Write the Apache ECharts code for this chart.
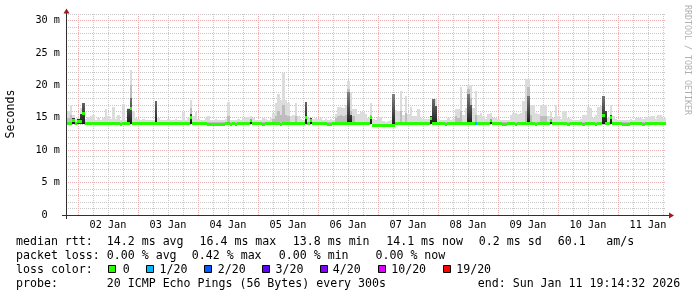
<!DOCTYPE html>
<html><head><meta charset="utf-8">
<script src="https://cdn.jsdelivr.net/npm/echarts@6/dist/echarts.min.js"></script>
<style>html,body{margin:0;padding:0;background:#fff}#c{width:697px;height:297px}</style>
</head><body><div id="c"></div><script>
// ---- time axis (hours since Jan 1 00:00) ----
const xMin = 19.2422, xMax = 259.2422;       // Jan 1 19:14:32 .. Jan 11 19:14:32
const startHour = 19.75;                       // first hourly bucket
const dayLabels = ['02 Jan','03 Jan','04 Jan','05 Jan','06 Jan','07 Jan','08 Jan','09 Jan','10 Jan','11 Jan'];
const dayLabelHours = [36,60,84,108,132,156,180,204,228,252];
const midnightHours = [24,48,72,96,120,144,168,192,216,240];
const sixHourHours = [30,36,42,54,60,66,78,84,90,102,108,114,126,132,138,150,156,162,174,180,186,198,204,210,222,228,234,246,252,258];
const yMajor = [0,5,10,15,20,25,30];
const yTickLabels = ['0  ','5 m','10 m','15 m','20 m','25 m','30 m'];
const yMinor = [1,2,3,4,6,7,8,9,11,12,13,14,16,17,18,19,21,22,23,24,26,27,28,29,31];

// ---- hourly buckets, ms ----
const medianRtt = [
14.1,14.1,14.5,14.1,14.4,14.4, 15.6,14.1,14.1,14.1,14.1,14.1, 14.1,14.1,14.1,14.1,14.1,14.1, 14.1,14.1,14.1,14.0,14.1,14.1,
14.1,16.4,14.1,14.1,14.1,14.1, 14.1,14.1,14.1,14.1,14.1,14.1, 14.1,14.1,14.1,14.1,14.1,14.1, 14.1,14.1,14.1,14.1,14.1,14.1,
14.1,15.0,14.1,14.1,14.1,14.1, 14.1,14.1,14.0,14.0,14.0,14.0, 14.0,14.0,14.0,14.1,14.1,14.0, 14.1,14.0,14.1,14.1,14.1,14.1,
14.1,14.5,14.1,14.1,14.1,14.1, 14.0,14.1,14.1,14.1,14.1,14.1, 14.1,14.0,14.1,14.1,14.1,14.1, 14.1,14.1,14.1,14.1,14.1,15.0,
14.1,14.5,14.1,14.1,14.1,14.1, 14.1,14.1,14.0,14.0,14.1,14.1, 14.1,14.1,14.1,14.1,14.1,14.1, 14.1,14.1,14.1,14.1,14.1,14.1,
14.1,15.0,13.8,13.8,13.8,13.8, 13.8,13.8,13.8,13.8,13.8,14.1, 14.1,14.1,14.1,14.1,14.1,14.1, 14.1,14.1,14.1,14.1,14.1,14.1,
14.1,14.9,14.1,14.1,14.1,14.1, 14.1,14.0,14.1,14.1,14.1,14.1, 14.1,14.1,14.1,14.1,14.1,14.1, 14.1,14.1,14.1,14.1,14.1,14.1,
14.1,14.5,14.1,14.1,14.1,14.1, 14.0,14.0,14.1,14.1,14.1,14.0, 14.1,14.1,14.1,14.1,14.1,14.1, 14.1,14.0,14.1,14.1,14.1,14.1,
14.1,14.5,14.1,14.1,14.1,14.1, 14.1,14.1,14.0,14.1,14.1,14.1, 14.1,14.1,14.0,14.1,14.1,14.1, 14.1,14.0,14.1,14.1,15.3,14.1,
14.1,15.0,14.1,14.1,14.1,14.1, 14.0,14.0,14.0,14.1,14.1,14.1, 14.1,14.1,14.0,14.1,14.1,14.1, 14.1,14.1,14.1,14.1,14.1,14.1
];
const smokeMax = [
16.0,17.0,15.5,14.8,15.0,16.5, 17.2,14.8,15.1,15.2,15.4,14.7, 15.0,14.7,15.0,16.3,15.2,14.8, 16.6,14.8,15.4,14.7,17.1,14.7,
16.5,22.3,16.0,15.0,14.8,14.7, 14.8,14.7,14.6,14.6,14.7,17.6, 15.0,14.7,14.6,14.7,14.8,14.6, 14.7,14.8,14.6,14.7,15.9,14.7,
15.0,17.8,15.2,15.9,14.8,14.7, 14.6,15.0,15.2,14.7,14.6,14.8, 14.7,14.6,14.7,14.8,17.4,14.7, 14.6,14.7,14.8,14.7,15.0,15.1,
15.1,15.2,15.0,14.7,14.6,14.7, 14.9,14.8,14.7,15.0,15.8,17.3, 18.6,17.7,21.9,17.7,17.3,15.2, 15.5,17.3,15.3,14.8,14.7,17.4,
15.0,15.0,14.8,14.9,14.8,15.0, 14.7,14.8,14.7,14.8,14.7,15.6, 16.6,16.7,16.5,17.0,20.7,19.0, 16.4,16.4,15.6,15.9,15.9,15.6,
14.9,17.3,14.8,14.6,15.1,15.1, 14.5,14.4,14.5,14.6,18.6,16.2, 16.0,19.1,15.5,18.3,15.6,16.6, 15.2,15.2,16.4,14.9,14.8,14.8,
14.8,15.3,17.9,17.9,14.8,14.7, 14.6,14.7,14.9,14.7,14.8,16.3, 16.3,19.7,15.5,16.5,20.1,20.0, 16.5,19.1,15.5,15.8,15.2,14.8,
15.6,15.8,14.9,14.9,14.8,14.7, 14.6,14.6,14.7,15.4,15.8,15.8, 15.6,15.8,17.6,21.0,21.0,17.0, 17.0,15.8,15.6,16.9,17.0,16.9,
15.2,15.9,15.0,17.0,15.2,14.8, 16.1,16.1,15.0,14.8,14.7,14.6, 14.7,14.8,15.5,15.5,16.6,16.5, 14.9,15.5,16.7,16.8,18.3,16.0,
15.0,17.0,15.2,14.8,14.7,14.6, 14.6,14.6,14.7,14.8,14.7,15.0, 15.0,15.0,14.8,15.1,15.1,15.3, 15.3,14.8,15.5,15.5,14.9,15.0
];
const smokeP90 = [
15.0,15.5,14.9,14.3,14.8,15.6, 17.2,14.3,14.3,14.3,14.3,14.3, 14.3,14.3,14.3,14.3,14.3,14.3, 14.3,14.3,14.3,14.3,14.3,14.3,
16.4,20.0,14.3,14.3,14.3,14.3, 14.3,14.3,14.3,14.3,14.3,17.6, 14.3,14.3,14.3,14.3,14.3,14.3, 14.3,14.3,14.3,14.3,14.3,14.3,
14.3,16.5,14.3,14.3,14.3,14.3, 14.3,14.3,14.3,14.3,14.3,14.3, 14.3,14.3,14.3,14.3,15.2,14.3, 14.3,14.3,14.3,14.3,14.3,14.3,
14.3,14.7,14.3,14.3,14.3,14.3, 14.3,14.3,14.3,14.3,14.8,15.3, 16.0,15.5,17.0,15.5,15.2,14.3, 14.3,15.2,14.3,14.3,14.3,17.4,
14.3,15.0,14.3,14.3,14.3,14.3, 14.3,14.3,14.3,14.3,14.3,15.0, 15.3,15.5,15.3,15.5,19.5,16.0, 15.2,14.3,14.3,14.3,14.3,14.3,
14.3,15.5,13.9,13.9,13.9,13.9, 13.9,13.9,13.9,13.9,18.6,14.3, 14.3,16.0,14.3,15.8,14.3,14.3, 14.3,14.3,14.3,14.3,14.3,14.3,
14.3,15.2,17.9,16.8,14.3,14.3, 14.3,14.3,14.3,14.3,14.3,15.2, 15.0,16.0,14.3,14.3,19.5,18.0, 14.3,15.5,14.3,14.3,14.3,14.3,
14.3,14.8,14.3,14.3,14.3,14.3, 14.3,14.3,14.3,14.3,14.3,14.3, 14.3,14.3,14.3,16.0,19.8,15.5, 14.3,14.3,14.3,15.3,15.3,15.3,
14.3,14.8,14.3,14.3,14.3,14.3, 14.3,14.3,14.3,14.3,14.3,14.3, 14.3,14.3,14.3,14.3,14.3,14.3, 14.3,14.3,14.3,14.3,18.3,16.0,
14.3,15.5,14.3,14.3,14.3,14.3, 14.3,14.3,14.3,14.3,14.3,14.3, 14.3,14.3,14.3,14.3,14.3,14.3, 14.3,14.3,14.3,14.3,14.3,14.3
];
const smokeQ75 = [
14.2,14.2,14.9,14.2,14.8,15.6, 17.2,14.2,14.2,14.2,14.2,14.2, 14.2,14.2,14.2,14.2,14.2,14.2, 14.2,14.2,14.2,14.2,14.2,14.2,
16.4,18.0,14.2,14.2,14.2,14.2, 14.2,14.2,14.2,14.2,14.2,17.6, 14.2,14.2,14.2,14.2,14.2,14.2, 14.2,14.2,14.2,14.2,14.2,14.2,
14.2,15.6,14.2,14.2,14.2,14.2, 14.2,14.2,14.2,14.2,14.2,14.2, 14.2,14.2,14.2,14.2,14.2,14.2, 14.2,14.2,14.2,14.2,14.2,14.2,
14.2,14.7,14.2,14.2,14.2,14.2, 14.2,14.2,14.2,14.2,14.2,14.2, 14.2,14.2,14.2,14.2,14.2,14.2, 14.2,14.2,14.2,14.2,14.2,17.4,
14.2,15.0,14.2,14.2,14.2,14.2, 14.2,14.2,14.2,14.2,14.2,14.2, 14.2,14.2,14.2,14.2,18.9,15.5, 14.2,14.2,14.2,14.2,14.2,14.2,
14.2,15.3,13.9,13.9,13.9,13.9, 13.9,13.9,13.9,13.9,18.6,14.2, 14.2,14.2,14.2,14.2,14.2,14.2, 14.2,14.2,14.2,14.2,14.2,14.2,
14.2,15.2,17.9,16.8,14.2,14.2, 14.2,14.2,14.2,14.2,14.2,14.2, 14.2,14.2,14.2,14.2,18.6,17.0, 14.2,14.2,14.2,14.2,14.2,14.2,
14.2,14.8,14.2,14.2,14.2,14.2, 14.2,14.2,14.2,14.2,14.2,14.2, 14.2,14.2,14.2,14.2,18.3,14.2, 14.2,14.2,14.2,14.2,14.2,14.2,
14.2,14.8,14.2,14.2,14.2,14.2, 14.2,14.2,14.2,14.2,14.2,14.2, 14.2,14.2,14.2,14.2,14.2,14.2, 14.2,14.2,14.2,14.2,18.3,16.0,
14.2,15.5,14.2,14.2,14.2,14.2, 14.2,14.2,14.2,14.2,14.2,14.2, 14.2,14.2,14.2,14.2,14.2,14.2, 14.2,14.2,14.2,14.2,14.2,14.2
];
const smokeLow = [
14.0,14.0,14.0,14.0,14.0,14.0, 14.0,14.0,14.0,14.0,14.0,14.0, 14.0,14.0,14.0,14.0,14.0,14.0, 14.0,14.0,14.0,14.0,14.0,14.0,
14.0,14.0,14.0,14.0,14.0,14.0, 14.0,14.0,14.0,14.0,14.0,14.0, 14.0,14.0,14.0,14.0,14.0,14.0, 14.0,14.0,14.0,14.0,14.0,14.0,
14.0,14.0,14.0,14.0,14.0,14.0, 14.0,14.0,14.0,14.0,14.0,14.0, 14.0,14.0,14.0,14.0,14.0,14.0, 14.0,14.0,14.0,14.0,14.0,14.0,
14.0,14.0,14.0,14.0,14.0,14.0, 14.0,14.0,14.0,14.0,14.0,14.0, 14.0,14.0,14.0,14.0,14.0,14.0, 14.0,14.0,14.0,14.0,14.0,14.0,
14.0,14.0,14.0,14.0,14.0,14.0, 14.0,14.0,14.0,14.0,14.0,14.0, 14.0,14.0,14.0,14.0,14.0,14.0, 14.0,14.0,14.0,14.0,14.0,14.0,
14.0,14.0,13.7,13.7,13.7,13.7, 13.7,13.7,13.7,13.7,13.7,14.0, 14.0,14.0,14.0,14.0,14.0,14.0, 14.0,14.0,14.0,14.0,14.0,14.0,
14.0,14.0,14.0,14.0,14.0,14.0, 14.0,14.0,14.0,14.0,14.0,14.0, 14.0,14.0,14.0,14.0,14.0,14.0, 14.0,14.0,14.0,14.0,14.0,14.0,
14.0,14.0,14.0,14.0,14.0,14.0, 14.0,14.0,14.0,14.0,14.0,14.0, 14.0,14.0,14.0,14.0,14.0,14.0, 14.0,14.0,14.0,14.0,14.0,14.0,
14.0,14.0,14.0,14.0,14.0,14.0, 14.0,14.0,14.0,14.0,14.0,14.0, 14.0,14.0,14.0,14.0,14.0,14.0, 14.0,14.0,14.0,14.0,14.0,14.0,
14.0,14.0,14.0,14.0,14.0,14.0, 14.0,14.0,14.0,14.0,14.0,14.0, 14.0,14.0,14.0,14.0,14.0,14.0, 14.0,14.0,14.0,14.0,14.0,14.0
];
const lossEvents = [[163, 1]];   // [bucket index, lost pings of 20]

// ---- legend / stats text ----
const lossThresholds = [0,1,2,3,4,10,19];
const lossLabels = ['0','1/20','2/20','3/20','4/20','10/20','19/20'];
const lossColors = ['#26ff00','#00b8ff','#0059ff','#5e00ff','#7e00ff','#dd00ff','#ff0000'];
const rttStats = ['14.2 ms avg','16.4 ms max','13.8 ms min','14.1 ms now','0.2 ms sd','60.1','am/s'];
const lossStats = ['0.00 % avg','0.42 % max','0.00 % min','0.00 % now'];
const probeText = '20 ICMP Echo Pings (56 Bytes) every 300s';
const endText = 'end: Sun Jan 11 19:14:32 2026';

// ---- build ----
const lossAt = i => { const e = lossEvents.find(d => d[0] === i); return e ? e[1] : 0; };
const lossColor = c => { let k = 0; lossThresholds.forEach((t, j) => { if (c >= t) k = j; }); return lossColors[k]; };
const smokeData = medianRtt.map((m, i) => [startHour + i, startHour + i + 1, smokeLow[i], smokeQ75[i], smokeP90[i], smokeMax[i], m, lossAt(i)]);
const vGridData = midnightHours.map(h => [h, 1]).concat(sixHourHours.map(h => [h, 0]));

const MONO = '"DejaVu Sans Mono", monospace';
const F_LEG = '11.6px ' + MONO;
const MAJ_C = '#e8b0b0', MIN_C = '#c8c8c8';

function renderSmoke(params, api) {
  const x0 = api.value(0), x1 = api.value(1);
  const lo = api.value(2), q75 = api.value(3), p90 = api.value(4), mx = api.value(5), med = api.value(6), loss = api.value(7);
  const px0 = Math.round(api.coord([x0, lo])[0]);
  const px1 = Math.round(api.coord([x1, lo])[0]);
  const w = px1 - px0;
  const yOf = v => api.coord([x0, v])[1];
  const kids = [];
  const yb = Math.round(yOf(lo));
  const band = (v, fill) => {
    const yt = Math.round(yOf(v));
    if (yb - yt < 1) return;
    kids.push({type: 'rect', shape: {x: px0, y: yt, width: w, height: yb - yt}, style: {fill}});
  };
  band(mx, '#dcdcdc');
  band(p90, '#bdbdbd');
  const yq = Math.round(yOf(q75));
  const h = yb - yq;
  if (h >= 1) {
    const lv = Math.min(185, 35 + Math.round(h * 3));
    const top = 'rgb(' + lv + ',' + lv + ',' + lv + ')';
    kids.push({type: 'rect', shape: {x: px0, y: yq, width: w, height: h},
      style: {fill: {type: 'linear', x: 0, y: 0, x2: 0, y2: 1, colorStops: [{offset: 0, color: top}, {offset: 1, color: '#1c1c1c'}]}}});
  }
  const yc = yOf(med);
  kids.push({type: 'rect', shape: {x: px0, y: Math.round(yc - 1.5), width: w, height: 3}, style: {fill: lossColor(loss)}});
  return {type: 'group', children: kids};
}

function renderVGrid(params, api) {
  const x = Math.round(api.coord([api.value(0), 0])[0]) + 0.5;
  const cs = params.coordSys;
  return {type: 'line', shape: {x1: x, y1: cs.y, x2: x, y2: cs.y + cs.height},
    style: {stroke: api.value(1) ? MAJ_C : MIN_C, lineWidth: 1, lineDash: [1, 1]}};
}

// ---- graphics (text & decorations) ----
const txt = (x, y, text, font, fill, rot, align) => ({
  type: 'text', x, y, rotation: rot || 0, silent: true,
  style: {text, font, fill: fill || '#000', align: align || 'left', textAlign: align || 'left', verticalAlign: 'middle', textVerticalAlign: 'middle'}
});
const g = [];
g.push(txt(10.5, 114, 'Seconds', F_LEG, '#000', Math.PI / 2, 'center'));
g.push(txt(687.5, 5, 'RRDTOOL / TOBI OETIKER', '8.3px ' + MONO, '#b0b0b0', -Math.PI / 2, 'left'));
const L1 = 241.5, L2 = 255.6, L3 = 269.6, L4 = 283.8;
g.push(txt(16, L1, 'median rtt:', F_LEG));
[107.3, 200, 293.3, 386.7, 479.3, 558.3, 606.7].forEach((x, k) => g.push(txt(x - 0.5, L1, rttStats[k], F_LEG)));
g.push(txt(16, L2, 'packet loss:', F_LEG));
[107.3, 192.3, 279.3, 376].forEach((x, k) => g.push(txt(x - 0.5, L2, lossStats[k], F_LEG)));
g.push(txt(16, L3, 'loss color:', F_LEG));
const sqX = [108, 146, 203.5, 262, 320, 378, 442.5];
const lbX = [123.3, 160, 218.3, 276, 333.3, 391.7, 456.7];
lossLabels.forEach((lb, k) => {
  g.push({type: 'rect', silent: true, shape: {x: Math.round(sqX[k]) + 0.5, y: 265.5, width: 7, height: 7},
    style: {fill: lossColors[k], stroke: '#000', lineWidth: 1}});
  g.push(txt(lbX[k] - 0.5, L3, lb, F_LEG));
});
g.push(txt(16, L4, 'probe:', F_LEG));
g.push(txt(106.8, L4, probeText, F_LEG));
g.push(txt(477.8, L4, endText, F_LEG));
// axis extensions & arrows
const AX = '#303030', AR = '#a01c1c';
g.push({type: 'line', silent: true, z: 10, shape: {x1: 62, y1: 215.5, x2: 669, y2: 215.5}, style: {stroke: AX, lineWidth: 1}});
g.push({type: 'line', silent: true, z: 10, shape: {x1: 66.5, y1: 219, x2: 66.5, y2: 13}, style: {stroke: AX, lineWidth: 1}});
g.push({type: 'polygon', silent: true, z: 10, shape: {points: [[63.5, 13.5], [69.5, 13.5], [66.5, 8.5]]}, style: {fill: AR}});
g.push({type: 'polygon', silent: true, z: 10, shape: {points: [[669, 212.5], [669, 218.5], [674, 215.5]]}, style: {fill: AR}});

const MAJ = {show: true, lineStyle: {color: MAJ_C, width: 1, type: [1, 1]}};
const MIN = {show: true, lineStyle: {color: MIN_C, width: 1, type: [1, 1]}};

const chart = echarts.init(document.getElementById('c'), null, {renderer: 'canvas'});
chart.setOption({
  animation: false,
  backgroundColor: '#ffffff',
  grid: {left: 66, top: 14, width: 600, height: 201, containLabel: false, outerBoundsMode: 'none'},
  xAxis: [
    {type: 'value', min: xMin, max: xMax,
     axisLine: {show: false}, axisTick: {show: false},
     axisLabel: {customValues: dayLabelHours, formatter: v => dayLabels[dayLabelHours.indexOf(v)] || '',
                 fontFamily: 'DejaVu Sans Mono', fontSize: 10.2, color: '#000', margin: 5},
     splitLine: {show: false}}
  ],
  yAxis: [
    {type: 'value', min: 0, max: 31, z: 2, position: 'left',
     axisLine: {show: false}, axisTick: {show: false, customValues: yMajor},
     axisLabel: {customValues: yMajor, formatter: v => yTickLabels[yMajor.indexOf(v)] || '',
                 fontFamily: 'DejaVu Sans Mono', fontSize: 10.2, color: '#000', margin: 6, padding: [3, 0, 0, 0]},
     splitLine: MAJ},
    {type: 'value', min: 0, max: 31, z: 1, position: 'left',
     axisLine: {show: false}, axisTick: {show: false, customValues: yMinor},
     axisLabel: {show: false}, splitLine: MIN}
  ],
  series: [
    {type: 'custom', name: 'vgrid', xAxisIndex: 0, yAxisIndex: 0, clip: false, z: 1, silent: true,
     renderItem: renderVGrid, encode: {x: 0}, data: vGridData},
    {type: 'custom', name: 'smoke', xAxisIndex: 0, yAxisIndex: 0, clip: true, z: 3, silent: true,
     renderItem: renderSmoke, encode: {x: [0, 1], y: [2, 5]}, data: smokeData}
  ],
  graphic: g
});
</script></body></html>
